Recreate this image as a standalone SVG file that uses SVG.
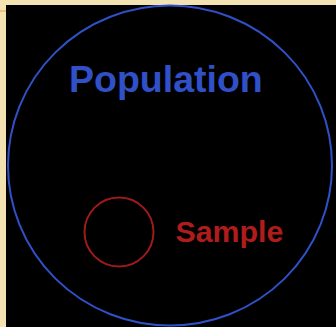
<svg xmlns="http://www.w3.org/2000/svg" width="336" height="327" viewBox="0 0 336 327">
<style>
.lbl{font-family:"Liberation Sans",Arial,sans-serif;font-weight:bold}
</style>
<rect x="0" y="0" width="336" height="327" fill="#f3e3b3"/>
<rect x="6" y="5" width="330" height="322" fill="#000"/>
<line x1="0" y1="11" x2="6" y2="11" stroke="#e0a040" stroke-width="1"/>
<g id="population">
<ellipse cx="170" cy="165.5" rx="162" ry="160" fill="none" stroke="#3050c8" stroke-width="2"/>
<text class="lbl" x="69" y="92" font-size="37.5" fill="#3050c8">Population</text>
</g>
<g id="sample">
<circle cx="119" cy="232" r="34.5" fill="none" stroke="#a01a1a" stroke-width="2"/>
<text class="lbl" x="175.5" y="241.5" font-size="30.3" fill="#b01c1c">Sample</text>
</g>
<g id="connectors"/>
</svg>
